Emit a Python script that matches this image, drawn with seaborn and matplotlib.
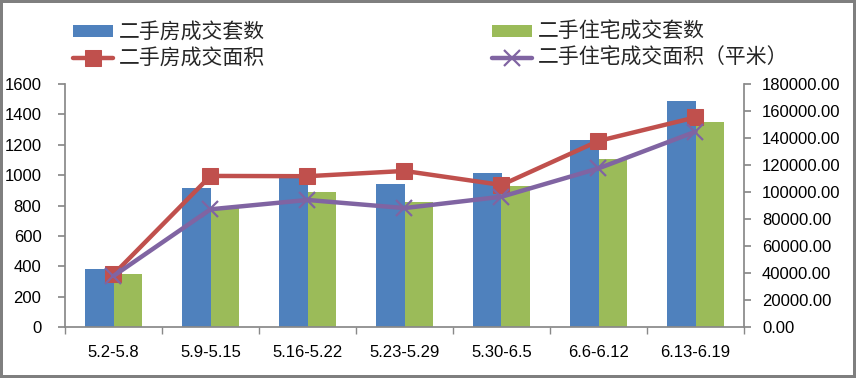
import numpy as np
import pandas as pd
import matplotlib
matplotlib.use("Agg")
import matplotlib.pyplot as plt
import seaborn as sns

categories = ["5.2-5.8", "5.9-5.15", "5.16-5.22", "5.23-5.29", "5.30-6.5", "6.6-6.12", "6.13-6.19"]
house_sets = [382, 915, 990, 942, 1014, 1230, 1488]
resid_sets = [350, 792, 888, 822, 928, 1105, 1349]
house_area = [39000, 111900, 111700, 115600, 105200, 137800, 155300]
resid_area = [37800, 87200, 94100, 88100, 96500, 117500, 144700]
left_ticks = [0, 200, 400, 600, 800, 1000, 1200, 1400, 1600]
right_ticks = [0, 20000, 40000, 60000, 80000, 100000, 120000, 140000, 160000, 180000]

lab_house_sets = "二手房成交套数"
lab_resid_sets = "二手住宅成交套数"
lab_house_area = "二手房成交面积"
lab_resid_area = "二手住宅成交面积（平米）"

sns.set_theme(style="white")
plt.rcParams['font.family'] = ['Liberation Sans', 'Noto Sans CJK SC', 'DejaVu Sans']

BLUE = "#4F81BD"
GREEN = "#9BBB59"
RED = "#C0504D"
PURPLE = "#8064A2"
GRAY = "#898989"

fig = plt.figure(figsize=(8.56, 3.78), dpi=100)
fig.patch.set_edgecolor("#7f7f7f")
fig.patch.set_linewidth(3)
ax = fig.add_axes([65/856, 1-327/378, (744-65)/856, (327-84)/378])

df = pd.DataFrame({
    "cat": categories * 2,
    "val": house_sets + resid_sets,
    "series": [lab_house_sets] * 7 + [lab_resid_sets] * 7,
})
sns.barplot(data=df, x="cat", y="val", hue="series", order=categories,
            hue_order=[lab_house_sets, lab_resid_sets],
            palette=[BLUE, GREEN], width=0.58, saturation=1, ax=ax,
            edgecolor="none", linewidth=0)
ax.set_xlim(-0.5, 6.5)
ax.set_ylim(0, 1600)
ax.set_yticks(left_ticks)
ax.set_xlabel("")
ax.set_ylabel("")

ax2 = ax.twinx()
x = np.arange(len(categories))
sns.lineplot(x=x, y=house_area, ax=ax2, color=RED, lw=3.2, marker="s", markersize=11,
             markeredgecolor=RED, label=lab_house_area)
sns.lineplot(x=x, y=resid_area, ax=ax2, color=PURPLE, lw=3.2, marker="x", markersize=11,
             markeredgewidth=1.6, markeredgecolor=PURPLE, label=lab_resid_area)
ax2.set_ylim(0, 180000)
ax2.set_yticks(right_ticks)
ax2.set_yticklabels([f"{v:.2f}" for v in right_ticks])
ax2.set_xlim(-0.5, 6.5)

for a in (ax, ax2):
    for s in a.spines.values():
        s.set_visible(False)
ax.spines["left"].set_visible(True)
ax.spines["left"].set_color(GRAY)
ax.spines["bottom"].set_visible(True)
ax.spines["bottom"].set_color(GRAY)
ax2.spines["right"].set_visible(True)
ax2.spines["right"].set_color(GRAY)

ax.tick_params(axis="y", which="major", left=True, length=5, color=GRAY, labelsize=12, pad=12)
ax2.tick_params(axis="y", which="major", right=True, length=5, color=GRAY, labelsize=12, pad=8)
ax.set_xticks(x)
ax.set_xticklabels(categories)
ax.set_xticks(np.arange(-0.5, 7, 1), minor=True)
ax.tick_params(axis="x", which="major", length=0, labelsize=12, pad=13)
ax.tick_params(axis="x", which="minor", bottom=True, length=5, color=GRAY)
for lbl in ax.get_yticklabels() + ax2.get_yticklabels() + ax.get_xticklabels():
    lbl.set_color("black")

h1, l1 = ax.get_legend_handles_labels()
h2, l2 = ax2.get_legend_handles_labels()
if ax.get_legend():
    ax.get_legend().remove()
if ax2.get_legend():
    ax2.get_legend().remove()
handles = [h1[0], h2[0], h1[1], h2[1]]
labels = [l1[0], l2[0], l1[1], l2[1]]
fig.legend(handles, labels, ncol=2, loc="upper left", bbox_to_anchor=(73/856, 1-21/378),
           frameon=False, prop={"family": ["Noto Sans CJK SC"], "size": 15},
           handlelength=1.92, handleheight=0.5, handletextpad=0.29, columnspacing=10.9,
           labelspacing=0.2, borderpad=0, borderaxespad=0)

fig.savefig("out.png", dpi=100)
